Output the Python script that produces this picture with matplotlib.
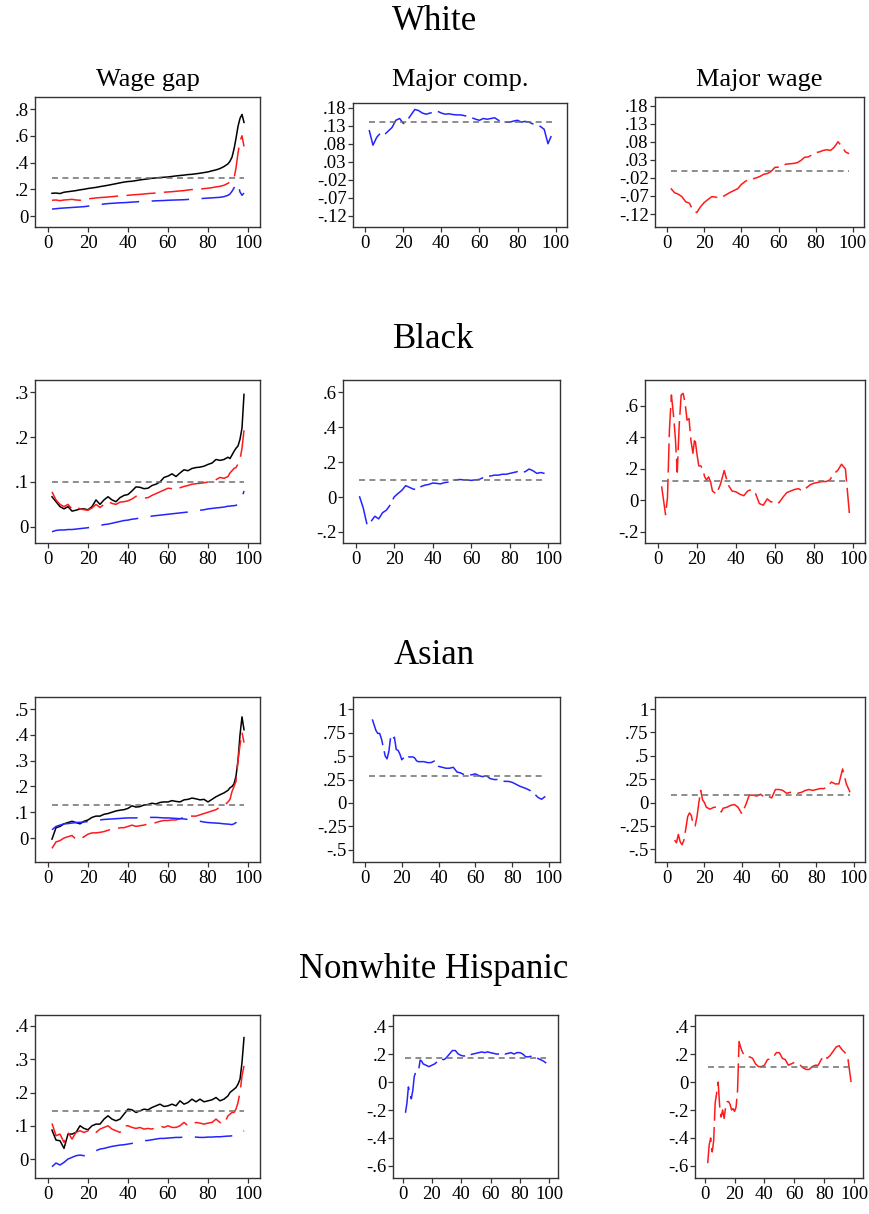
import numpy as np
import matplotlib
matplotlib.use("Agg")
import matplotlib.pyplot as plt

W, H, DPI = 869, 1214, 100

plt.rcParams["font.family"] = ["Liberation Serif", "DejaVu Serif"]
plt.rcParams["lines.scale_dashes"] = False

RED = "#ff1a1a"
BLUE = "#2424ff"
GREY = "#6e6e6e"

ROWS = ["White", "Black", "Asian", "Nonwhite Hispanic"]
COLS = ["Wage gap", "Major comp.", "Major wage"]

# percentiles
X_GAP = list(range(2, 91, 2)) + list(range(91, 99))
X_MAJ = list(range(2, 99, 2))
X_FINE = list(range(2, 31)) + list(range(32, 99, 2))
nan = np.nan

# ---- White ----
WHITE_GAP = [.17, .172, .168, .178, .182, .186, .19, .196, .2, .206, .21, .214, .22, .225, .23,
             .236, .242, .248, .254, .258, .26, .265, .27, .274, .278, .282, .285, .288, .29, .292,
             .296, .3, .303, .306, .31, .312, .316, .32, .325, .33, .338, .345, .355, .37, .39,
             .41, .44, .50, .58, .67, .73, .76, .70]
WHITE_GAP_WAGE = [.118, .12, .115, .12, .122, .125, .12, .118, .12, .128, .132, .135, .138, .14, .142,
                  .145, .148, .15, .152, .155, .158, .16, .162, .165, .168, .17, .172, .175, .178, .18,
                  .182, .185, .188, .19, .195, .198, .2, .202, .205, .208, .212, .218, .222, .23, .245,
                  .255, .265, .28, .36, .47, .56, .60, .52]
WHITE_GAP_COMP = [.052, .055, .058, .06, .062, .064, .066, .068, .07, .074, .078, .082, .086, .09, .093,
                  .095, .097, .099, .1, .102, .104, .106, .108, .11, .111, .112, .114, .115, .116, .118,
                  .119, .12, .121, .122, .124, .126, .128, .13, .132, .134, .136, .138, .14, .145, .155,
                  .165, .185, .21, .25, .24, .18, .155, .172]
WHITE_COMP = [.118, .076, .098, .11, .105, .115, .125, .145, .15, .136, .145, .16, .175, .172, .165,
              .162, .165, .168, .17, .165, .162, .163, .161, .16, .16, .158, .155, .152, .148, .145,
              .15, .148, .15, .152, .145, .14, .14, .14, .143, .145, .14, .142, .14, .135, .13,
              .128, .12, .08, .105]
WHITE_WAGE = [-.049, -.061, -.065, -.072, -.086, -.09, -.11, -.116, -.10, -.088, -.08, -.072, -.073,
              -.076, -.072, -.066, -.06, -.055, -.05, -.038, -.03, -.024, -.023, -.02, -.016, -.01,
              -.008, -.002, .009, .01, .014, .018, .019, .02, .022, .028, .037, .038, .044, .05, .052,
              .056, .058, .056, .065, .08, .068, .052, .047]
WHITE_REF = [.285, .14, .0]

# ---- Black ----
BLACK_GAP = [.067, .056, .045, .04, .045, .035, .037, .04, .04, .038, .045, .06, .05, .06, .067,
             .06, .056, .065, .07, .072, .08, .089, .088, .085, .086, .092, .095, .10, .11, .113,
             .118, .112, .12, .127, .125, .13, .132, .133, .135, .139, .142, .15, .148, .15, .155,
             .152, .16, .168, .175, .18, .195, .22, .295]
BLACK_GAP_WAGE = [.078, .06, .05, .045, .05, .04, .045, .04, .038, .037, .042, .05, .043, .05, .057,
                  .052, .05, .055, .056, .058, .062, .068, .066, .064, .065, .07, .074, .078, .082, .086,
                  .085, .082, .087, .09, .092, .095, .096, .097, .098, .10, .10, .105, .11, .108, .112,
                  .12, .125, .13, .132, .14, .15, .175, .215]
BLACK_GAP_COMP = [-.011, -.008, -.007, -.007, -.006, -.006, -.005, -.004, -.003, -.002, .0, .002, .003,
                  .005, .006, .008, .01, .012, .014, .015, .017, .018, .02, .021, .022, .024, .025, .026,
                  .027, .028, .029, .03, .031, .032, .033, .035, .036, .037, .038, .04, .041, .042, .043,
                  .044, .046, .046, .047, .047, .048, .05, .055, .065, .08]
BLACK_COMP = [.005, -.063, -.16, -.14, -.11, -.125, -.09, -.075, -.045, .0, .02, .038, .065, .055, .045,
              .042, .06, .068, .072, .08, .078, .075, .082, .085, .09, .098, .10, .098, .097, .095,
              .098, .10, .11, .12, .12, .125, .125, .13, .13, .135, .14, .145, .14, .145, .16,
              .15, .135, .14, .135]
BLACK_WAGE = [.09, .0, -.09, .02, .45, .67, .55, .40, .18, .48, .67, .68, .62, .51, .52, .38, .30, .40,
              .30, .22, .22, .2, .15, .13, .15, .12, .06, .05, .04,
              .10, .19, .10, .06, .055, .04, .03, .06, .07, .045, -.02, -.03, .01, -.01, .0, -.015,
              .02, .05, .06, .07, .075, .06, .08, .10, .11, .115, .12, .12, .13, .17, .19, .23, .20, -.08]
BLACK_REF = [.1, .095, .125]

# ---- Asian ----
ASIAN_GAP = [-.004, .04, .045, .055, .06, .065, .06, .055, .065, .07, .08, .085, .085, .092, .095,
             .10, .105, .108, .11, .115, .125, .12, .122, .128, .13, .135, .132, .138, .14, .14,
             .145, .142, .14, .148, .15, .155, .152, .148, .15, .14, .15, .16, .168, .175, .185,
             .195, .20, .21, .24, .30, .40, .47, .42]
ASIAN_GAP_WAGE = [-.04, -.015, -.01, .0, .005, .01, -.005, -.005, .005, .015, .02, .02, .022, .025, .03,
                  .035, .035, .04, .04, .045, .05, .045, .048, .05, .055, .055, .06, .065, .068, .068,
                  .07, .07, .075, .08, .085, .085, .085, .09, .095, .10, .105, .11, .12, .125, .14,
                  .15, .18, .20, .22, .30, .36, .41, .37]
ASIAN_GAP_COMP = [.032, .045, .05, .055, .056, .058, .06, .061, .062, .064, .066, .068, .07, .072, .073,
                  .074, .075, .076, .077, .078, .078, .078, .079, .08, .08, .08, .08, .079, .078, .078,
                  .077, .076, .075, .074, .072, .07, .068, .065, .062, .06, .059, .058, .057, .055, .054,
                  .053, .052, .055, .06, .07, .075, .065, .06]
ASIAN_COMP = [nan, nan, .89, .83, .77, .74, .74, .68, .59, .50, .47, .55, .71, .68, .70, .57, .56, .52,
              .46, .48, .51, .50, .49, .49, .49, .48, .45, .44, .44,
              .44, .43, .43, .45, .39, .38, .37, .37, .38, .33, .32, .30, .30, .30, .31, .29, .28,
              .29, .26, .25, .25, .24, .23, .23, .22, .20, .18, .165, .15, .13, .10, .06, .04, .07]
ASIAN_WAGE = [nan, nan, -.40, -.43, -.34, -.42, -.45, -.40, -.28, -.15, -.11, -.14, -.24, -.25, -.15,
              .0, .13, .03, .0, -.05, -.06, -.07, -.06, -.05, -.05, -.06, -.07, -.10, -.06,
              -.05, -.03, -.02, -.05, -.12, -.03, .08, .08, .07, .09, .06, .07, .05, .14, .14, .13,
              .10, .11, .10, .10, .11, .13, .14, .13, .14, .15, .15, .17, .22, .20, .20, .36, .20, .11]
ASIAN_REF = [.128, .285, .08]

# ---- Nonwhite Hispanic ----
HISP_GAP = [.087, .057, .055, .032, .075, .075, .08, .10, .092, .088, .10, .105, .105, .12, .13,
            .12, .115, .12, .135, .15, .148, .14, .145, .15, .148, .155, .16, .165, .158, .16,
            .165, .16, .175, .165, .17, .18, .172, .18, .172, .175, .178, .185, .175, .18, .19,
            .20, .205, .21, .215, .225, .24, .29, .365]
HISP_GAP_WAGE = [.107, .07, .075, .05, .08, .06, .08, .085, .08, .085, .09, .08, .09, .095, .10,
                 .09, .085, .08, .10, .10, .095, .092, .095, .09, .092, .09, .095, .10, .095, .10,
                 .095, .095, .10, .11, .10, .105, .11, .108, .105, .108, .11, .12, .11, .105, .13,
                 .135, .14, .14, .15, .17, .20, .25, .28]
HISP_GAP_COMP = [-.023, -.012, -.018, -.01, .0, .005, .01, .012, .01, .015, .022, .025, .03, .032, .035,
                 .038, .04, .042, .043, .045, .047, .05, .052, .055, .056, .058, .06, .062, .062, .063,
                 .064, .065, .065, .066, .066, .066, .066, .065, .065, .066, .066, .067, .067, .068, .069,
                 .069, .07, .071, .072, .074, .075, .08, .085]
HISP_COMP = [-.22, -.15, -.035, -.08, -.12, -.06, .04, .07, .075, .085, .157, .15, .13, .125, .12,
             .115, .11, .115, .12, .125, .13, .14, .15, .16, .165, .162, .16, .165, .175,
             .20, .225, .225, .20, .19, .185, .20, .195, .20, .205, .21, .215, .21, .215, .21, .205,
             .20, .20, .21, .20, .205, .21, .20, .21, .21, .20, .18, .18, .185, .185, .17, .16, .15, .135]
HISP_WAGE = [-.58, -.45, -.40, -.50, -.42, -.15, -.08, .0, -.17, -.25, -.20, -.26, -.18, -.14, -.14,
             -.16, -.20, -.19, -.21, -.18, -.06, .29, .25, .22, .20, .19, .18, .18, .18,
             .17, .13, .11, .11, .12, .16, .165, .18, .21, .21, .17, .16, .12, .13, .14, .13, .12,
             .10, .09, .09, .11, .12, .12, .16, .19, .17, .19, .22, .25, .26, .23, .21, .16, .0]
HISP_REF = [.145, .17, .105]

# y ticks per panel (row, col)
YTICKS = {
    (0, 0): [0, .2, .4, .6, .8],
    (0, 1): [-.12, -.07, -.02, .03, .08, .13, .18],
    (0, 2): [-.12, -.07, -.02, .03, .08, .13, .18],
    (1, 0): [0, .1, .2, .3],
    (1, 1): [-.2, 0, .2, .4, .6],
    (1, 2): [-.2, 0, .2, .4, .6],
    (2, 0): [0, .1, .2, .3, .4, .5],
    (2, 1): [-.5, -.25, 0, .25, .5, .75, 1],
    (2, 2): [-.5, -.25, 0, .25, .5, .75, 1],
    (3, 0): [0, .1, .2, .3, .4],
    (3, 1): [-.6, -.4, -.2, 0, .2, .4],
    (3, 2): [-.6, -.4, -.2, 0, .2, .4],
}
YLIMS = {
    (0, 0): (-.082, .89), (0, 1): (-.151, .193), (0, 2): (-.156, .204),
    (1, 0): (-.036, .327), (1, 1): (-.263, .669), (1, 2): (-.27, .765),
    (2, 0): (-.093, .547), (2, 1): (-.628, 1.128), (2, 2): (-.635, 1.129),
    (3, 0): (-.057, .433), (3, 1): (-.686, .479), (3, 2): (-.686, .479),
}
XTICKS = [0, 20, 40, 60, 80, 100]

# plot boxes in pixels: x0, x1, y0, y1
BOXES = {
    (0, 0): (35, 260, 97, 227), (0, 1): (353, 567, 103, 227), (0, 2): (655, 864, 97, 227),
    (1, 0): (35, 260, 380, 543), (1, 1): (343, 560, 380, 543), (1, 2): (645, 865, 380, 543),
    (2, 0): (35, 260, 697, 862), (2, 1): (353, 560, 697, 862), (2, 2): (655, 865, 697, 862),
    (3, 0): (35, 260, 1015, 1178), (3, 1): (393, 558, 1015, 1178), (3, 2): (695, 863, 1015, 1178),
}
ROW_TITLE_Y = [22, 340, 655, 970]

DASH_GAP_WAGE = (21, 6)
DASH_GAP_COMP = (27, 9)
DASH_MAJOR = (21, 4.5)
DASH_REF = (4.3, 3.2)


def stata_fmt(v):
    s = f"{v:g}"
    return s.replace("-0.", "-.").replace("0.", ".") if s not in ("0", "1") else s


def panel(ax, key, series, ref):
    for x, y, color, dashes in series:
        if dashes is None:
            ax.plot(x, y, color=color, lw=1.1, solid_joinstyle="round")
        else:
            ax.plot(x, y, color=color, lw=1.1, dashes=dashes)
    ax.plot([X_MAJ[0], X_MAJ[-1]], [ref, ref], color=GREY, lw=1.1, dashes=DASH_REF)
    ax.set_xlim(-6.5, 106)
    ax.set_ylim(*YLIMS[key])
    ax.set_xticks(XTICKS)
    ax.set_xticklabels([str(t) for t in XTICKS])
    yt = YTICKS[key]
    ax.set_yticks(yt)
    ax.set_yticklabels([stata_fmt(v) for v in yt])
    ax.tick_params(axis="both", direction="out", length=3.6, width=0.9,
                   color="#333333", labelsize=13.5)
    ax.tick_params(axis="x", pad=2.5)
    ax.tick_params(axis="y", pad=1)
    for s in ax.spines.values():
        s.set_color("#333333")
        s.set_linewidth(1.0)


fig = plt.figure(figsize=(W / DPI, H / DPI), dpi=DPI)

data = [
    (WHITE_GAP, WHITE_GAP_WAGE, WHITE_GAP_COMP, WHITE_COMP, WHITE_WAGE, WHITE_REF, X_MAJ, X_MAJ),
    (BLACK_GAP, BLACK_GAP_WAGE, BLACK_GAP_COMP, BLACK_COMP, BLACK_WAGE, BLACK_REF, X_MAJ, X_FINE),
    (ASIAN_GAP, ASIAN_GAP_WAGE, ASIAN_GAP_COMP, ASIAN_COMP, ASIAN_WAGE, ASIAN_REF, X_FINE, X_FINE),
    (HISP_GAP, HISP_GAP_WAGE, HISP_GAP_COMP, HISP_COMP, HISP_WAGE, HISP_REF, X_FINE, X_FINE),
]

for r, (gap, gwage, gcomp, comp, wage, ref, xc, xw) in enumerate(data):
    axes = []
    for c in range(3):
        x0, x1, y0, y1 = BOXES[(r, c)]
        ax = fig.add_axes([x0 / W, 1 - y1 / H, (x1 - x0) / W, (y1 - y0) / H])
        axes.append(ax)
    panel(axes[0], (r, 0), [
        (X_GAP, gap, "black", None),
        (X_GAP, gwage, RED, DASH_GAP_WAGE),
        (X_GAP, gcomp, BLUE, DASH_GAP_COMP),
    ], ref[0])
    panel(axes[1], (r, 1), [(xc, comp, BLUE, DASH_MAJOR)], ref[1])
    panel(axes[2], (r, 2), [(xw, wage, RED, DASH_MAJOR)], ref[2])

    fig.text(434 / W, 1 - ROW_TITLE_Y[r] / H, ROWS[r], ha="center", va="center", fontsize=25)
    if r == 0:
        for c, name in enumerate(COLS):
            x0, x1, _, _ = BOXES[(0, c)]
            fig.text((x0 + x1) / 2 / W, 1 - 80 / H, name, ha="center", va="center", fontsize=19)

fig.savefig("out.png", dpi=DPI, facecolor="white")
